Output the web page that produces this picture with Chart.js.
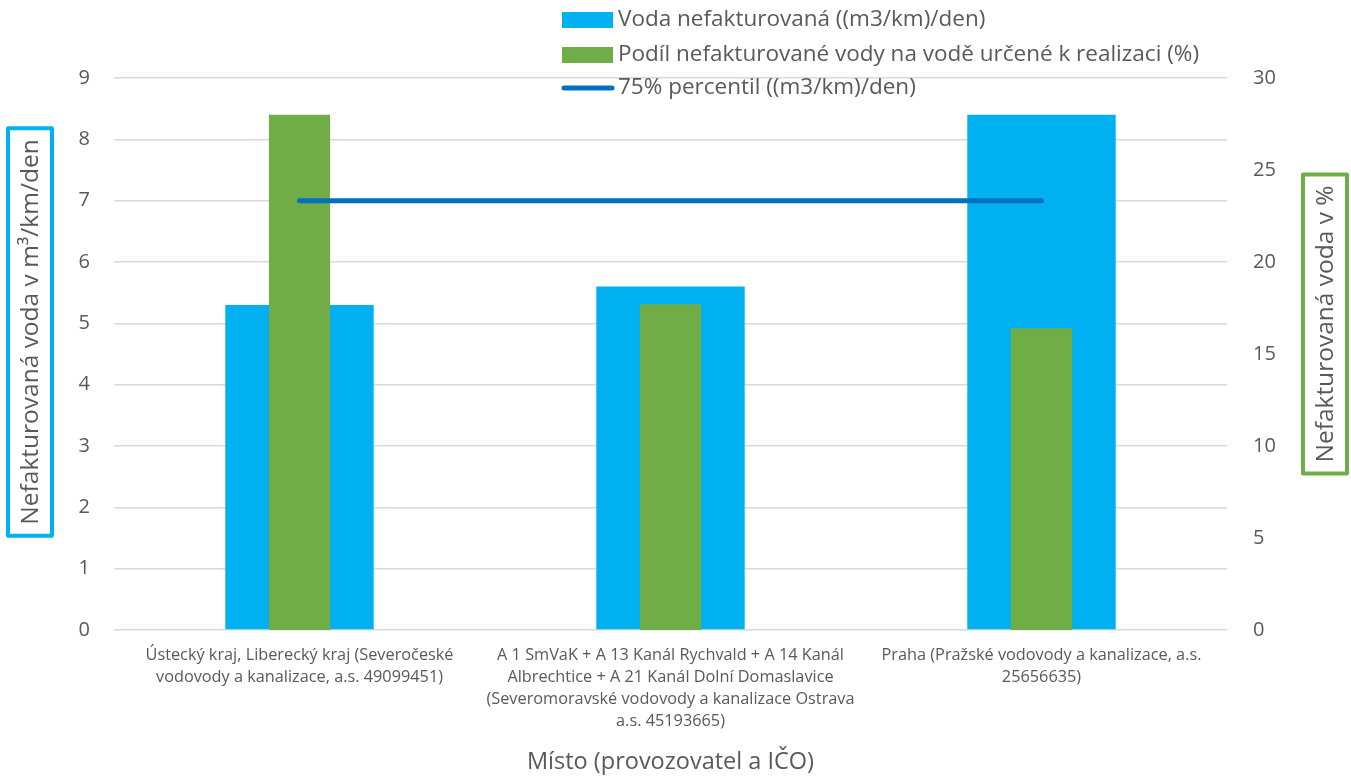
<!DOCTYPE html>
<html>
<head>
<meta charset="utf-8">
<script src="https://cdn.jsdelivr.net/npm/chart.js@4"></script>
<style>
  html, body { margin: 0; padding: 0; background: #fff; }
  #wrap { width: 1351px; height: 776px; }
</style>
</head>
<body>
<div id="wrap"><canvas id="chart"></canvas></div>
<script>
// Data z grafu
const categories = [
  ["Ústecký kraj, Liberecký kraj (Severočeské", "vodovody a kanalizace, a.s. 49099451)"],
  ["A 1 SmVaK + A 13 Kanál Rychvald + A 14 Kanál", "Albrechtice + A 21 Kanál Dolní Domaslavice", "(Severomoravské vodovody a kanalizace Ostrava", "a.s. 45193665)"],
  ["Praha (Pražské vodovody a kanalizace, a.s.", "25656635)"]
];
const waterLoss = [5.3, 5.6, 8.4];        // (m3/km)/den
const lossShare = [28.0, 17.7, 16.4];     // %
const percentile75 = [7.0, 7.0, 7.0];     // (m3/km)/den

const leftTicks = [0, 1, 2, 3, 4, 5, 6, 7, 8, 9];
const rightTicks = [0, 5, 10, 15, 20, 25, 30];

const FONT = "'Open Sans', sans-serif";
const TEXT = "#595959";
const GRID = "#d9d9d9";

// Legenda jako svislý seznam přes graf
const legendPlugin = {
  id: "customLegend",
  afterDraw(chart) {
    const ctx = chart.ctx;
    const rows = [20, 55, 88];
    ctx.save();
    ctx.font = "22.5px " + FONT;
    ctx.textBaseline = "middle";
    chart.data.datasets.forEach((ds, i) => {
      const y = rows[i];
      if (ds.type === "line") {
        ctx.strokeStyle = ds.borderColor;
        ctx.lineWidth = 5;
        ctx.lineCap = "round";
        ctx.beginPath();
        ctx.moveTo(564, y);
        ctx.lineTo(612, y);
        ctx.stroke();
      } else {
        ctx.fillStyle = ds.backgroundColor;
        ctx.fillRect(562, y - 8, 51, 16);
      }
      ctx.fillStyle = TEXT;
      ctx.fillText(ds.label, 618, y);
    });
    ctx.restore();
  }
};

// Popisky os v rámečku
function boxedTitle(ctx, text, cx, cy, color) {
  ctx.save();
  ctx.font = "24.5px " + FONT;
  const w = ctx.measureText(text).width + 22;
  const h = 44;
  ctx.translate(cx, cy);
  ctx.rotate(-Math.PI / 2);
  ctx.strokeStyle = color;
  ctx.lineWidth = 4;
  ctx.lineJoin = "round";
  ctx.strokeRect(-w / 2, -h / 2, w, h);
  ctx.fillStyle = TEXT;
  ctx.textAlign = "center";
  ctx.textBaseline = "middle";
  ctx.fillText(text, 0, 1);
  ctx.restore();
}

const titlesPlugin = {
  id: "axisTitles",
  afterDraw(chart) {
    const ctx = chart.ctx;
    boxedTitle(ctx, "Nefakturovaná voda v m³/km/den", 30, 332, "#00B0F0");
    boxedTitle(ctx, "Nefakturovaná voda v %", 1325, 324, "#70AD47");
  }
};

new Chart(document.getElementById("chart"), {
  data: {
    labels: categories,
    datasets: [
      {
        type: "bar",
        label: "Voda nefakturovaná ((m3/km)/den)",
        data: waterLoss,
        yAxisID: "y",
        backgroundColor: "#00B0F0",
        barPercentage: 0.4,
        categoryPercentage: 1.0,
        grouped: false,
        order: 2
      },
      {
        type: "bar",
        label: "Podíl nefakturované vody na vodě určené k realizaci (%)",
        data: lossShare,
        yAxisID: "y2",
        backgroundColor: "#70AD47",
        barPercentage: 0.165,
        categoryPercentage: 1.0,
        grouped: false,
        order: 1
      },
      {
        type: "line",
        label: "75% percentil ((m3/km)/den)",
        data: percentile75,
        yAxisID: "y",
        borderColor: "#0070C0",
        borderWidth: 5,
        borderCapStyle: "round",
        pointRadius: 0,
        fill: false,
        order: 0
      }
    ]
  },
  options: {
    responsive: true,
    maintainAspectRatio: false,
    animation: false,
    layout: { padding: { top: 78, left: 0, right: 0, bottom: 0 } },
    plugins: {
      legend: { display: false },
      tooltip: { enabled: false }
    },
    scales: {
      x: {
        grid: { display: false, drawTicks: false },
        border: { display: false },
        ticks: {
          color: TEXT,
          font: { family: FONT, size: 16.3, lineHeight: 1.35 },
          maxRotation: 0,
          autoSkip: false,
          padding: 14
        },
        title: {
          display: true,
          text: "Místo (provozovatel a IČO)",
          color: TEXT,
          font: { family: FONT, size: 23.5 },
          padding: { top: 0, bottom: 0 }
        },
        afterFit(scale) { scale.height = 146; }
      },
      y: {
        position: "left",
        min: 0,
        max: 9,
        afterBuildTicks(scale) { scale.ticks = leftTicks.map(v => ({ value: v })); },
        grid: { color: GRID, lineWidth: 1.5, drawTicks: false },
        border: { display: false },
        ticks: {
          color: TEXT,
          font: { family: FONT, size: 20 },
          padding: 24
        },
        afterFit(scale) { scale.width = 114; }
      },
      y2: {
        position: "right",
        min: 0,
        max: 30,
        afterBuildTicks(scale) { scale.ticks = rightTicks.map(v => ({ value: v })); },
        grid: { display: false, drawTicks: false },
        border: { display: false },
        ticks: {
          color: TEXT,
          font: { family: FONT, size: 20 },
          padding: 26
        },
        afterFit(scale) { scale.width = 124; }
      }
    }
  },
  plugins: [legendPlugin, titlesPlugin]
});
</script>
</body>
</html>
